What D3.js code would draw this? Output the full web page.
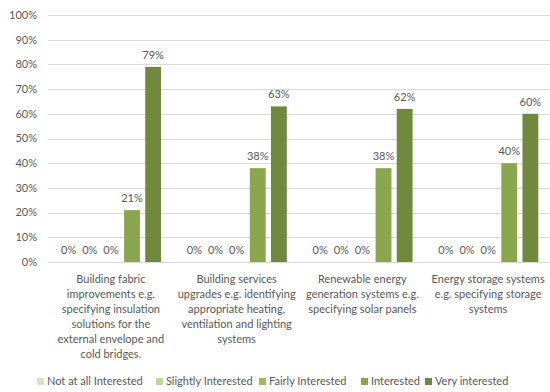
<!DOCTYPE html>
<html>
<head>
<meta charset="utf-8">
<script src="https://cdn.jsdelivr.net/npm/d3@7"></script>
<style>
  body { margin: 0; background: #fff; }
  text { font-family: Lato, "Open Sans", sans-serif; fill: #595959; }
</style>
</head>
<body>
<div id="chart"></div>
<script>
// categories (each one wrapped as in the original)
var categories = [
  ["Building fabric", "improvements e.g.", "specifying insulation", "solutions for the", "external envelope and", "cold bridges."],
  ["Building services", "upgrades e.g. identifying", "appropriate heating,", "ventilation and lighting", "systems"],
  ["Renewable energy", "generation systems e.g.", "specifying solar panels"],
  ["Energy storage systems", "e.g. specifying storage", "systems"]
];
var seriesNames = ["Not at all Interested", "Slightly Interested", "Fairly Interested", "Interested", "Very interested"];
var seriesColors = ["#d7e4bd", "#c3d69b", "#9bbb59", "#8aa64e", "#71893f"];
// values per category, in series order
var values = [
  [0, 0, 0, 21, 79],
  [0, 0, 0, 38, 63],
  [0, 0, 0, 38, 62],
  [0, 0, 0, 40, 60]
];
var yTicks = [0, 10, 20, 30, 40, 50, 60, 70, 80, 90, 100];

var W = 550, H = 392;
var plotLeft = 48, plotRight = 551, plotTop = 15, plotBottom = 262;

var svg = d3.select("#chart").append("svg")
  .attr("width", W).attr("height", H);

var x0 = d3.scaleBand().domain(d3.range(categories.length)).range([plotLeft, plotRight]);
var x1 = d3.scaleBand().domain(d3.range(seriesNames.length))
  .range([0, x0.bandwidth()]).paddingInner(0.25).paddingOuter(0.6);
var y = d3.scaleLinear().domain([0, 100]).range([plotBottom, plotTop]);

// gridlines + y labels
svg.append("g").selectAll("line").data(yTicks).enter().append("line")
  .attr("x1", plotLeft).attr("x2", plotRight)
  .attr("y1", function(d) { return Math.round(y(d)) + 0.5; })
  .attr("y2", function(d) { return Math.round(y(d)) + 0.5; })
  .attr("stroke", "#d9d9d9").attr("stroke-width", 1);

svg.append("g").selectAll("text").data(yTicks).enter().append("text")
  .attr("x", 37).attr("y", function(d) { return y(d); })
  .attr("dy", "0.35em").attr("text-anchor", "end")
  .attr("font-size", "11px")
  .text(function(d) { return d + "%"; });

// bars
var groups = svg.append("g").selectAll("g").data(values).enter().append("g")
  .attr("transform", function(d, i) { return "translate(" + x0(i) + ",0)"; });

groups.selectAll("rect").data(function(d) { return d; }).enter().append("rect")
  .attr("x", function(d, i) { return x1(i); })
  .attr("width", x1.bandwidth())
  .attr("y", function(d) { return y(d); })
  .attr("height", function(d) { return plotBottom - y(d); })
  .attr("fill", function(d, i) { return seriesColors[i]; });

groups.selectAll("text").data(function(d) { return d; }).enter().append("text")
  .attr("x", function(d, i) { return x1(i) + x1.bandwidth() / 2; })
  .attr("y", function(d) { return y(d) - 8; })
  .attr("text-anchor", "middle")
  .attr("font-size", "11px")
  .text(function(d) { return d + "%"; });

// category labels
var cat = svg.append("g").selectAll("text").data(categories).enter().append("text")
  .attr("text-anchor", "middle")
  .attr("font-size", "11px");
cat.selectAll("tspan").data(function(d, i) { return d.map(function(s) { return { s: s, i: i }; }); })
  .enter().append("tspan")
  .attr("x", function(d) { return x0(d.i) + x0.bandwidth() / 2; })
  .attr("y", function(d, k) { return 283 + k * 15; })
  .text(function(d) { return d.s; });

// legend
var legendX = [37, 156, 259, 361, 425];
var leg = svg.append("g").selectAll("g").data(seriesNames).enter().append("g")
  .attr("transform", function(d, i) { return "translate(" + legendX[i] + ",378)"; });
leg.append("rect").attr("width", 7).attr("height", 7)
  .attr("fill", function(d, i) { return seriesColors[i]; });
leg.append("text").attr("x", 10).attr("y", 3.5).attr("dy", "0.35em")
  .attr("font-size", "11px")
  .text(function(d) { return d; });
</script>
</body>
</html>
